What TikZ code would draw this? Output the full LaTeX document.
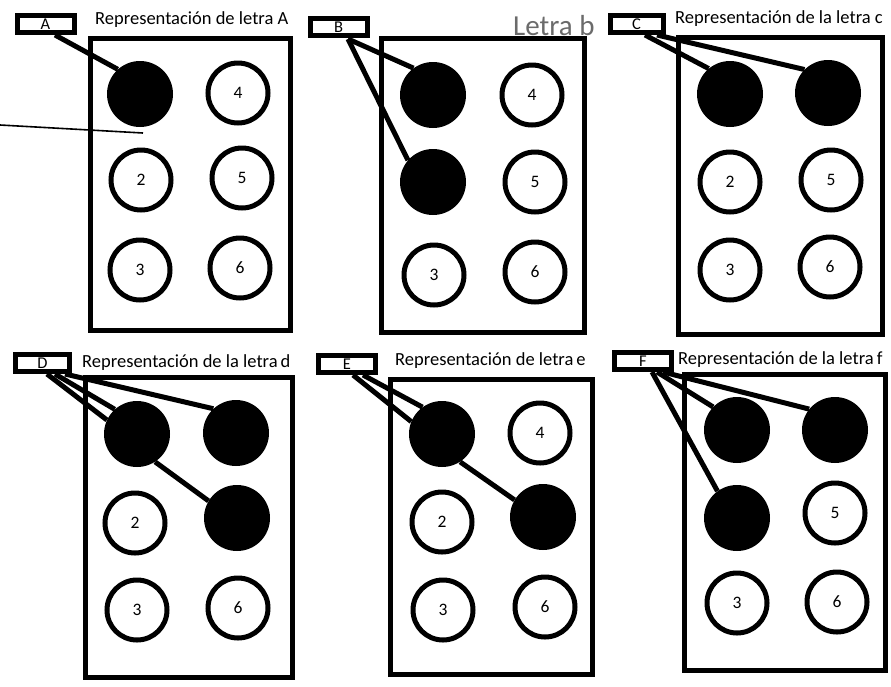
\documentclass[tikz,border=0pt]{standalone}
\usepackage{fontspec}
\setmainfont{Carlito}
\begin{document}
\begin{tikzpicture}[x=1pt,y=-1pt,
  panel/.style={draw, line width=5pt},
  lbox/.style={draw, line width=5pt, fill=white, minimum width=57pt, minimum height=17pt, inner sep=0pt, text height=11.5pt, text depth=0pt, font=\fontsize{16.5}{16.5}\selectfont},
  fdot/.style={circle, fill=black, minimum size=66pt, inner sep=0pt},
  edot/.style={circle, draw, line width=5pt, fill=white, minimum size=60pt, inner sep=0pt, font=\fontsize{17.5}{17.5}\selectfont},
  conn/.style={line width=5pt},
  ttl/.style={anchor=base west, inner sep=0pt, font=\fontsize{18.5}{18.5}\selectfont},
  thin/.style={line width=1.6pt}
]
\useasboundingbox (0,0) rectangle (891,686);

% ---------- Panel A ----------
\node[panel, minimum width=200pt, minimum height=292pt, inner sep=0pt] (rA) at (190.5,184.5) {};
\node[ttl] (tA) at (95,24) {Representación de letra A};
\coordinate (sA1) at (0,125);
\coordinate (sA2) at (143,133);
\coordinate (cA1) at (55,35);
\node[fdot] (a1) at (140,94) {};
\node[edot] (a4) at (238,93) {4};
\node[edot] (a2) at (141,180) {2};
\node[edot] (a5) at (242,178) {5};
\node[edot] (a3) at (140,270) {3};
\node[edot] (a6) at (240,268) {6};
\draw[conn] (cA1) -- (a1.132);
\draw[thin] (sA1) -- (sA2);
\node[lbox] (bA) at (45.5,24) {A};

% ---------- Panel B ----------
\node[panel, minimum width=203pt, minimum height=294pt, inner sep=0pt] (rB) at (483,185.5) {};
\node[ttl, font=\fontsize{29}{29}\selectfont, text=black!58] (tB) at (513,35) {Letra b};
\coordinate (cB1) at (348,39);
\node[fdot] (b1) at (433,95) {};
\node[fdot] (b2) at (433,182) {};
\node[edot] (b4) at (532,95) {4};
\node[edot] (b5) at (535,182) {5};
\node[edot] (b3) at (434,275) {3};
\node[edot] (b6) at (535,272) {6};
\draw[conn] (cB1) -- (b1.126);
\draw[conn] (cB1) -- (b2.139);
\node[lbox] (bB) at (338.5,27) {B};

% ---------- Panel C ----------
\node[panel, minimum width=204pt, minimum height=297pt, inner sep=0pt] (rC) at (780.5,186) {};
\node[ttl] (tC) at (675,23) {Representación de la letra c};
\coordinate (cC1) at (645,35);
\coordinate (cC2) at (657,35);
\node[fdot] (c1) at (730,94) {};
\node[fdot] (c4) at (828,93) {};
\node[edot] (c2) at (730,182) {2};
\node[edot] (c5) at (831,180) {5};
\node[edot] (c3) at (730,270) {3};
\node[edot] (c6) at (830,267) {6};
\draw[conn] (cC1) -- (c1.130);
\draw[conn] (cC2) -- (c4.135);
\node[lbox, minimum width=53pt] (bC) at (636.5,24) {C};

% ---------- Panel D ----------
\node[panel, minimum width=207pt, minimum height=300pt, inner sep=0pt] (rD) at (189,527.5) {};
\node[ttl] (tD) at (82,367) {Representación de la letra\,d};
\coordinate (cD1) at (47,374);
\coordinate (cD2) at (55,374);
\coordinate (cD3) at (65,374);
\node[fdot] (d1) at (137,434) {};
\node[fdot] (d4) at (236,433) {};
\node[fdot] (d5) at (237,518) {};
\node[edot] (d2) at (135,523) {2};
\node[edot] (d3) at (137,610) {3};
\node[edot] (d6) at (238,608) {6};
\draw[conn] (cD1) -- (d1.155);
\draw[conn] (cD2) -- (d1.132);
\draw[conn] (cD3) -- (d4.133);
\draw[conn] (d1.303) -- (d5.149);
\node[lbox, minimum width=54pt] (bD) at (42.5,363) {D};

% ---------- Panel E ----------
\node[panel, minimum width=202pt, minimum height=295pt, inner sep=0pt] (rE) at (491.5,527) {};
\node[ttl] (tE) at (395,365) {Representación de letra\,e};
\coordinate (cE1) at (353,375);
\coordinate (cE2) at (363,375);
\node[fdot] (e1) at (442,434) {};
\node[fdot] (e5) at (543,517) {};
\node[edot] (e4) at (540,433) {4};
\node[edot] (e2) at (442,522) {2};
\node[edot] (e3) at (443,610) {3};
\node[edot] (e6) at (545,607) {6};
\draw[conn] (cE1) -- (e1.158);
\draw[conn] (cE2) -- (e1.126);
\draw[conn] (e1.303) -- (e5.149);
\node[lbox] (bE) at (347,363.5) {E};

% ---------- Panel F ----------
\node[panel, minimum width=201pt, minimum height=296pt, inner sep=0pt] (rF) at (785,522.5) {};
\node[ttl] (tF) at (678,364) {Representación de la letra\,f};
\coordinate (cF1) at (652,372);
\coordinate (cF2) at (657,372);
\coordinate (cF3) at (663,372);
\node[fdot] (f1) at (737,430) {};
\node[fdot] (f4) at (835,430) {};
\node[fdot] (f2) at (737,518) {};
\node[edot] (f5) at (835,513) {5};
\node[edot] (f3) at (737,603) {3};
\node[edot] (f6) at (837,602) {6};
\draw[conn] (cF1) -- (f2.126);
\draw[conn] (cF2) -- (f1.136);
\draw[conn] (cF3) -- (f4.141);
\node[lbox] (bF) at (643,360.5) {F};
\end{tikzpicture}
\end{document}
